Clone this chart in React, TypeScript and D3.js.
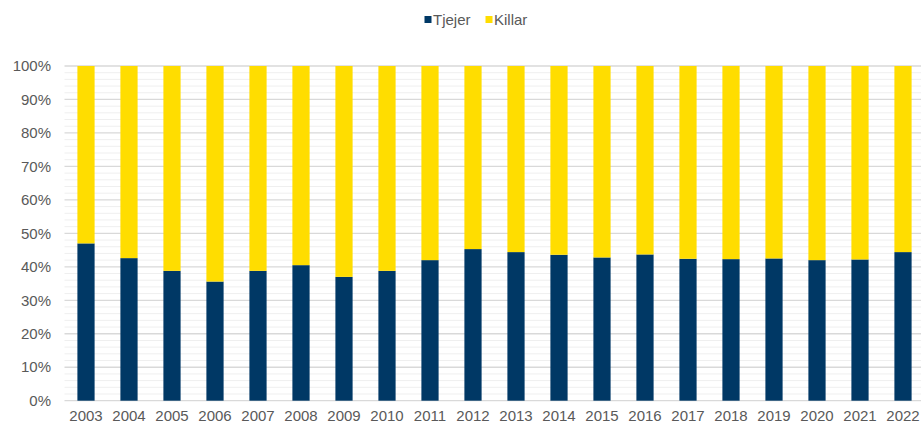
import React from "react";
import * as d3 from "d3";

const years = [
  "2003", "2004", "2005", "2006", "2007", "2008", "2009", "2010", "2011", "2012",
  "2013", "2014", "2015", "2016", "2017", "2018", "2019", "2020", "2021", "2022",
];
// share of girls (Tjejer) in percent, boys (Killar) make up the rest
const tjejer = [
  47.0, 42.6, 38.8, 35.6, 38.8, 40.5, 37.0, 38.8, 42.0, 45.3,
  44.4, 43.6, 42.8, 43.7, 42.4, 42.3, 42.5, 42.0, 42.2, 44.4,
];
const killar = tjejer.map((t) => 100 - t);
const majorTicks = [0, 10, 20, 30, 40, 50, 60, 70, 80, 90, 100];
const minorTicks = d3.range(0, 101, 2).filter((v) => v % 10 !== 0);

const NAVY = "#003865";
const YELLOW = "#FFDD00";
const TEXT = "#595959";
const FONT = "'Liberation Sans', Arial, sans-serif";

const App = () => {
  const width = 921;
  const height = 427;
  const x = d3.scaleBand().domain(years).range([64.5, 924.5]).paddingInner(0.6).paddingOuter(0.3);
  const y = d3.scaleLinear().domain([0, 100]).range([400.7, 66]);

  return (
    <svg
      width={width}
      height={height}
      style={{ position: "absolute", left: 0, top: 0, background: "#fff" }}
    >
      {minorTicks.map((t) => (
        <line key={"mi" + t} x1={64.5} x2={width} y1={y(t)} y2={y(t)} stroke="#efefef" strokeWidth={1} />
      ))}
      {majorTicks.map((t) => (
        <line key={"ma" + t} x1={64.5} x2={width} y1={y(t)} y2={y(t)} stroke="#d9d9d9" strokeWidth={1.3} />
      ))}
      {years.map((yr, i) => (
        <g key={yr}>
          <rect
            x={x(yr)}
            width={x.bandwidth()}
            y={y(tjejer[i])}
            height={y(0) - y(tjejer[i])}
            fill={NAVY}
          />
          <rect
            x={x(yr)}
            width={x.bandwidth()}
            y={y(tjejer[i] + killar[i])}
            height={y(tjejer[i]) - y(tjejer[i] + killar[i])}
            fill={YELLOW}
          />
        </g>
      ))}
      {majorTicks.map((t) => (
        <text
          key={"yl" + t}
          x={51}
          y={y(t)}
          dy="0.35em"
          textAnchor="end"
          fontFamily={FONT}
          fontSize={15}
          fill={TEXT}
        >
          {t + "%"}
        </text>
      ))}
      {years.map((yr) => (
        <text
          key={"xl" + yr}
          x={(x(yr) as number) + x.bandwidth() / 2}
          y={421}
          textAnchor="middle"
          fontFamily={FONT}
          fontSize={15}
          fill={TEXT}
        >
          {yr}
        </text>
      ))}
      <g fontFamily={FONT} fontSize={15} fill={TEXT}>
        <rect x={424.5} y={16} width={7} height={7} fill={NAVY} />
        <text x={433} y={25}>Tjejer</text>
        <rect x={485.5} y={16} width={7} height={7} fill={YELLOW} />
        <text x={494} y={25}>Killar</text>
      </g>
    </svg>
  );
};

export default App;
